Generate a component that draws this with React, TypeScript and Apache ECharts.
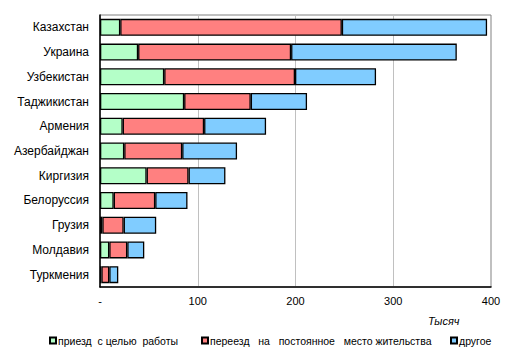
import React, { useEffect, useRef } from "react";
import * as echarts from "echarts";

const categories = [
  "Казахстан",
  "Украина",
  "Узбекистан",
  "Таджикистан",
  "Армения",
  "Азербайджан",
  "Киргизия",
  "Белоруссия",
  "Грузия",
  "Молдавия",
  "Туркмения",
];
const seriesNames = [
  "приезд  с целью  работы",
  "переезд   на   постоянное   место жительства",
  "другое",
];
const work = [20.7, 39, 65.7, 86.1, 23.2, 24.8, 47.7, 14, 2.4, 9.5, 1.4];
const residence = [226.7, 156.5, 133.8, 68.1, 83.3, 59.3, 42.9, 42.5, 21.8, 18.4, 8.1];
const other = [148.6, 169.5, 82.9, 57.6, 63.4, 56.1, 37.7, 33, 33.3, 17.4, 9.2];
const colors = ["#B4FFC8", "#FF8080", "#80CCFF"];
const xTicks = [0, 100, 200, 300, 400];

export default function App() {
  const ref = useRef<HTMLDivElement>(null);
  useEffect(() => {
    if (!ref.current) return;
    const chart = echarts.init(ref.current, undefined, { renderer: "svg" });
    const font = "'Liberation Sans', Arial, sans-serif";
    const data = [work, residence, other];
    const legendPos = [49, 201, 450];
    chart.setOption({
      animation: false,
      textStyle: { fontFamily: font },
      grid: {
        left: 100,
        right: 24,
        top: 15,
        bottom: 67,
        show: true,
        borderColor: "#808080",
        borderWidth: 1,
      },
      legend: seriesNames.map((n, i) => ({
        data: [n],
        left: legendPos[i],
        top: 335,
        icon: "rect",
        itemWidth: 6,
        itemHeight: 6,
        itemGap: 2,
        padding: 0,
        textStyle: { fontSize: 10.5, color: "#000", fontFamily: font, padding: [0, 0, 0, -3] },
      })),
      xAxis: {
        type: "value",
        min: xTicks[0],
        max: xTicks[xTicks.length - 1],
        interval: 100,
        axisLine: { show: true, lineStyle: { color: "#000", width: 1.5 } },
        axisTick: { show: false },
        splitLine: { show: true, lineStyle: { color: "#C0C0C0", width: 1 } },
        axisLabel: {
          color: "#000",
          fontSize: 11,
          margin: 8,
          fontFamily: font,
          formatter: (v: number) => (v === 0 ? "-" : String(v)),
        },
      },
      yAxis: {
        type: "category",
        data: categories,
        inverse: true,
        axisLine: { show: true, lineStyle: { color: "#000", width: 1.5 } },
        axisTick: { show: false },
        axisLabel: { color: "#000", fontSize: 12, margin: 11, fontFamily: font },
      },
      graphic: [
        {
          type: "text",
          left: 428,
          top: 315,
          style: {
            text: "Тысяч",
            font: "italic 11px 'Liberation Sans', Arial, sans-serif",
            fill: "#000",
          },
        },
      ],
      series: seriesNames.map((n, i) => ({
        name: n,
        type: "bar",
        stack: "total",
        barWidth: 17,
        data: data[i],
        itemStyle: { color: colors[i], borderColor: "#000", borderWidth: 1.3 },
      })),
    });
    return () => chart.dispose();
  }, []);
  return <div ref={ref} style={{ width: 515, height: 354, position: "absolute", left: 0, top: 0 }} />;
}
